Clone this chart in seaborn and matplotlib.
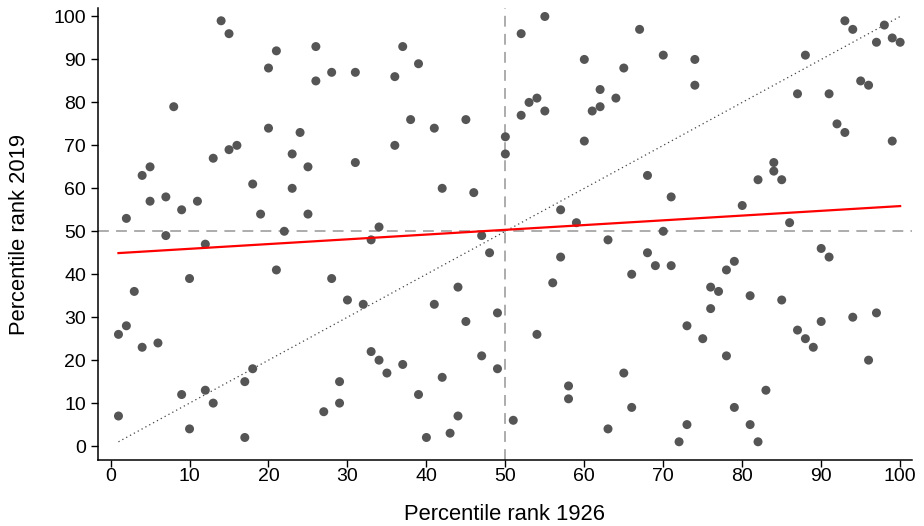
import numpy as np
import pandas as pd
import matplotlib
matplotlib.use("Agg")
import matplotlib.pyplot as plt
import seaborn as sns

# percentile ranks
rank_1926 = [1, 1, 2, 2, 3, 4, 4, 5, 5, 6, 7, 7, 8, 9, 9, 10, 10, 11, 12, 12,
             13, 13, 14, 15, 15, 16, 17, 17, 18, 18, 19, 20, 20, 21, 21, 22, 23, 23, 24, 25,
             25, 26, 26, 27, 28, 28, 29, 29, 30, 31, 31, 32, 33, 33, 34, 34, 35, 36, 36, 37,
             37, 38, 39, 39, 40, 41, 41, 42, 42, 43, 44, 44, 45, 45, 46, 47, 47, 48, 49, 49,
             50, 50, 51, 52, 52, 53, 54, 54, 55, 55, 56, 57, 57, 58, 58, 59, 60, 60, 61, 62,
             62, 63, 63, 64, 65, 65, 66, 66, 67, 68, 68, 69, 70, 70, 71, 71, 72, 73, 73, 74,
             74, 75, 76, 76, 77, 78, 78, 79, 79, 80, 81, 81, 82, 82, 83, 84, 84, 85, 85, 86,
             87, 87, 88, 88, 89, 90, 90, 91, 91, 92, 93, 93, 94, 94, 95, 96, 96, 97, 97, 98,
             99, 99, 100]
rank_2019 = [7, 26, 28, 53, 36, 63, 23, 65, 57, 24, 58, 49, 79, 55, 12, 39, 4, 57, 47, 13,
             67, 10, 99, 96, 69, 70, 15, 2, 61, 18, 54, 88, 74, 92, 41, 50, 68, 60, 73, 65,
             54, 93, 85, 8, 87, 39, 15, 10, 34, 87, 66, 33, 48, 22, 51, 20, 17, 86, 70, 93,
             19, 76, 89, 12, 2, 74, 33, 60, 16, 3, 37, 7, 76, 29, 59, 49, 21, 45, 31, 18,
             72, 68, 6, 96, 77, 80, 81, 26, 100, 78, 38, 55, 44, 14, 11, 52, 90, 71, 78, 83,
             79, 48, 4, 81, 88, 17, 40, 9, 97, 63, 45, 42, 91, 50, 58, 42, 1, 28, 5, 90,
             84, 25, 37, 32, 36, 41, 21, 43, 9, 56, 35, 5, 62, 1, 13, 66, 64, 62, 34, 52,
             82, 27, 91, 25, 23, 46, 29, 82, 44, 75, 99, 73, 97, 30, 85, 84, 20, 94, 31, 98,
             95, 71, 94]

df = pd.DataFrame({"rank_1926": rank_1926, "rank_2019": rank_2019})

plt.rcParams["font.family"] = ["Liberation Sans", "DejaVu Sans"]
fig, ax = plt.subplots(figsize=(9.24, 5.26), dpi=100)
fig.subplots_adjust(left=0.106, right=0.987, top=0.985, bottom=0.125)

# reference lines at the median
ax.axvline(50, color="#a6a6a6", linestyle=(0, (6, 4)), linewidth=1.3, zorder=1)
ax.axhline(50, color="#a6a6a6", linestyle=(0, (6, 4)), linewidth=1.3, zorder=1)

sns.scatterplot(data=df, x="rank_1926", y="rank_2019", ax=ax, color="#555555",
                s=42, edgecolor="none", zorder=3)

# 45 degree line
lo, hi = df["rank_1926"].min(), df["rank_1926"].max()
ax.plot([lo, hi], [lo, hi], color="#444444", linestyle=(0, (1, 2.5)), linewidth=0.9, zorder=2)

# OLS fit
b, a = np.polyfit(df["rank_1926"], df["rank_2019"], 1)
xs = np.array([lo, hi])
ax.plot(xs, a + b * xs, color="red", linewidth=1.6, zorder=4)

ax.set_xlim(-1.6, 101.5)
ax.set_ylim(-3.3, 102)
ax.set_xticks(range(0, 101, 10))
ax.set_yticks(range(0, 101, 10))
ax.tick_params(axis="both", labelsize=14, length=5, width=1, direction="out", color="black")
ax.tick_params(axis="x", pad=0.5)
ax.tick_params(axis="y", pad=3.5)
ax.set_xlabel("Percentile rank 1926", fontsize=15.8, labelpad=14)
ax.set_ylabel("Percentile rank 2019", fontsize=15.8, labelpad=17)
for side in ["top", "right"]:
    ax.spines[side].set_visible(False)
for side in ["left", "bottom"]:
    ax.spines[side].set_linewidth(1.1)

fig.savefig("out.png", dpi=100)
